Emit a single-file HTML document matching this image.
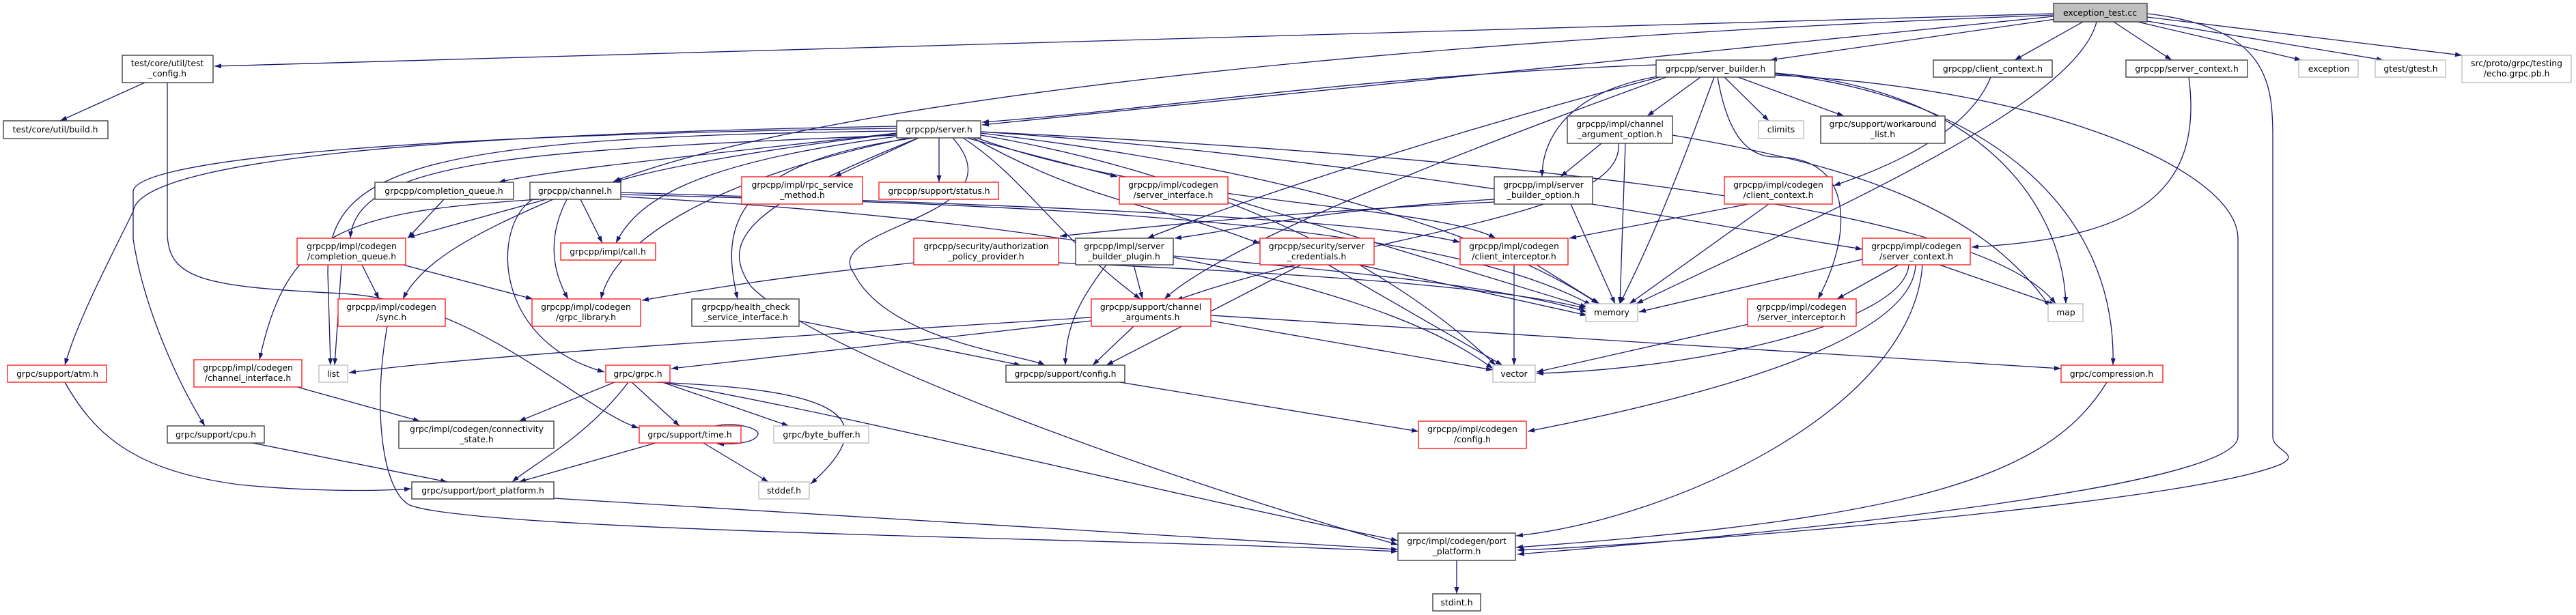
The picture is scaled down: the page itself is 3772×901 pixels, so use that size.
<!DOCTYPE html>
<html><head><meta charset="utf-8"><style>
html,body{margin:0;padding:0;background:#fff;}
svg{display:block;}
text{font-family:"DejaVu Sans","Liberation Sans",sans-serif;font-size:12.4px;fill:#000;text-anchor:middle;}
.e{fill:none;stroke:#191970;stroke-width:1.3;marker-end:url(#a);}
.n{fill:#fff;stroke:#404040;stroke-width:1.4;}
.r{fill:#fff;stroke:#ff2020;stroke-width:1.4;}
.g{fill:#fff;stroke:#bfbfbf;stroke-width:1.4;}
</style></head><body>
<svg width="3772" height="901" viewBox="0 0 3772 901" xmlns="http://www.w3.org/2000/svg">
<defs><marker id="a" markerUnits="userSpaceOnUse" markerWidth="11" markerHeight="8" refX="10" refY="3.5" orient="auto"><path d="M0,0 L10,3.5 L0,7 z" fill="#191970"/></marker></defs>
<g>
<path class="e" d="M3007,20 L314,97"/>
<path class="e" d="M3010,28 L2592,88"/>
<path class="e" d="M3007,24 L1438,183"/>
<path class="e" d="M3007,22 C2000,60 1200,150 898,266"/>
<path class="e" d="M3050,32 L2950,88"/>
<path class="e" d="M3095,32 L3180,88"/>
<path class="e" d="M3130,32 L3370,88"/>
<path class="e" d="M3138,30 L3490,88"/>
<path class="e" d="M3144,25 L3605,81"/>
<path class="e" d="M3070,32 C3040,150 2700,300 2396,445"/>
<path class="e" d="M3144,20 C3320,40 3328,120 3328,200 L3328,640 C3328,660 3370,665 3340,680 C3200,740 2400,800 2222,806"/>
<path class="e" d="M2425,95 C2000,110 1700,160 1438,179"/>
<path class="e" d="M2490,113 L2412,170"/>
<path class="e" d="M2525,113 L2590,177"/>
<path class="e" d="M2545,113 L2700,170"/>
<path class="e" d="M2440,110 C2300,130 2258,200 2258,259"/>
<path class="e" d="M2510,113 C2460,250 2420,350 2372,445"/>
<path class="e" d="M2515,113 C2530,200 2560,230 2600,230 C2720,230 2710,350 2662,438"/>
<path class="e" d="M2599,107 C2900,130 3020,300 3025,445"/>
<path class="e" d="M2599,108 C2900,140 3100,300 3094,535"/>
<path class="e" d="M2599,110 C3000,130 3277,250 3277,350 L3277,640 C3277,720 2500,790 2222,812"/>
<path class="e" d="M2440,113 C2200,200 1800,350 1705,438"/>
<path class="e" d="M2430,113 C2100,200 1800,300 1680,349"/>
<path class="e" d="M1313,195 C1000,230 800,250 730,267"/>
<path class="e" d="M1313,196 C1100,220 950,250 900,267"/>
<path class="e" d="M1345,202 L1222,259"/>
<path class="e" d="M1375,202 L1375,267"/>
<path class="e" d="M1415,202 L1636,259"/>
<path class="e" d="M1313,198 C800,220 520,230 513,349"/>
<path class="e" d="M1313,200 C1000,240 930,300 902,356"/>
<path class="e" d="M1330,202 C1050,260 900,350 880,438"/>
<path class="e" d="M1340,202 C1050,240 1060,350 1080,438"/>
<path class="e" d="M1410,202 C1500,260 1550,350 1670,438"/>
<path class="e" d="M1395,202 C1500,320 1200,330 1250,400 C1300,500 1500,520 1530,535"/>
<path class="e" d="M1436,195 C1900,250 2200,350 2340,445"/>
<path class="e" d="M1436,198 C1800,260 2050,400 2190,535"/>
<path class="e" d="M1313,192 C600,200 480,250 480,400 L484,535"/>
<path class="e" d="M1313,185 C400,200 200,260 195,310 C150,400 110,480 95,535"/>
<path class="e" d="M1313,188 C500,200 200,240 195,280 L195,350 C210,450 260,560 300,624"/>
<path class="e" d="M1425,202 C1600,300 1700,300 1845,357"/>
<path class="e" d="M1430,202 C1700,300 2100,300 2190,349"/>
<path class="e" d="M1345,202 C1100,300 1050,350 1100,420 C1200,520 1700,700 2047,798"/>
<path class="e" d="M1436,193 C2200,230 2900,300 3010,445"/>
<path class="e" d="M1436,193 C2000,230 2500,330 2727,365"/>
<path class="e" d="M800,292 L597,348"/>
<path class="e" d="M850,292 L882,356"/>
<path class="e" d="M810,292 C700,340 620,380 590,438"/>
<path class="e" d="M830,292 C800,350 810,400 832,438"/>
<path class="e" d="M790,292 C500,310 420,340 380,527"/>
<path class="e" d="M780,292 C720,330 720,500 885,545"/>
<path class="e" d="M909,285 C1500,300 2100,320 2330,447"/>
<path class="e" d="M909,288 C1500,320 2000,400 2186,540"/>
<path class="e" d="M909,282 C1500,300 2000,320 2138,355"/>
<path class="e" d="M650,292 L597,349"/>
<path class="e" d="M530,388 L555,438"/>
<path class="e" d="M590,388 L780,438"/>
<path class="e" d="M500,388 L490,535"/>
<path class="e" d="M567,478 C545,600 560,720 600,740 C700,780 1700,790 2047,808"/>
<path class="e" d="M1338,385 C1100,410 1000,430 940,440"/>
<path class="e" d="M1550,385 C1900,400 2200,420 2322,452"/>
<path class="e" d="M1660,388 L1673,438"/>
<path class="e" d="M1620,388 C1580,440 1560,480 1560,535"/>
<path class="e" d="M1718,375 C2000,400 2200,420 2324,457"/>
<path class="e" d="M1905,388 L1620,535"/>
<path class="e" d="M1990,388 L2324,462"/>
<path class="e" d="M1945,388 L2200,535"/>
<path class="e" d="M2250,388 L2342,445"/>
<path class="e" d="M2217,388 L2217,535"/>
<path class="e" d="M2300,299 L2365,445"/>
<path class="e" d="M2188,292 C1900,310 1800,340 1720,349"/>
<path class="e" d="M2188,296 C1900,310 1700,330 1552,346"/>
<path class="e" d="M2345,210 L2285,259"/>
<path class="e" d="M2380,210 L2372,445"/>
<path class="e" d="M2370,210 C2380,320 2000,340 1722,440"/>
<path class="e" d="M2449,198 C2700,240 2900,300 3002,450"/>
<path class="e" d="M2560,299 L2298,349"/>
<path class="e" d="M2590,299 L2386,445"/>
<path class="e" d="M2727,380 L2400,457"/>
<path class="e" d="M2840,388 L3010,447"/>
<path class="e" d="M2780,388 L2690,438"/>
<path class="e" d="M2795,388 C2790,470 2500,540 2250,547"/>
<path class="e" d="M2805,388 C2800,500 2500,580 2237,632"/>
<path class="e" d="M2815,388 C2800,600 2450,760 2220,785"/>
<path class="e" d="M2915,113 C2880,200 2750,250 2685,272"/>
<path class="e" d="M3205,113 C3230,300 3100,350 2887,362"/>
<path class="e" d="M1598,465 C1200,490 700,520 511,546"/>
<path class="e" d="M1660,478 L1600,535"/>
<path class="e" d="M1773,470 L2186,542"/>
<path class="e" d="M1773,462 L3018,540"/>
<path class="e" d="M1598,470 L983,540"/>
<path class="e" d="M1170,470 L1495,535"/>
<path class="e" d="M1798,290 L2324,450"/>
<path class="e" d="M1640,560 L2077,632"/>
<path class="e" d="M900,560 L760,617"/>
<path class="e" d="M925,560 L995,624"/>
<path class="e" d="M970,560 L1155,624"/>
<path class="e" d="M920,560 C860,640 780,680 750,706"/>
<path class="e" d="M970,560 C1300,620 1600,700 2047,792"/>
<path class="e" d="M960,560 C1200,570 1310,600 1187,709"/>
<path class="e" d="M1030,649 L1125,706"/>
<path class="e" d="M960,649 L760,706"/>
<path class="e" d="M1047,624 C1080,618 1112,628 1110,636 C1108,646 1085,652 1050,650"/>
<path class="e" d="M95,560 C140,640 200,690 350,710 C450,720 550,720 602,716"/>
<path class="e" d="M370,649 L655,706"/>
<path class="e" d="M435,567 L615,617"/>
<path class="e" d="M811,730 L2047,805"/>
<path class="e" d="M3085,560 C3000,700 2800,760 2220,802"/>
<path class="e" d="M2560,475 L2250,545"/>
<path class="e" d="M2133,821 L2133,870"/>
<path class="e" d="M245,121 L245,340 C245,410 300,420 500,430 C700,440 850,600 935,627"/>
<path class="e" d="M212,121 L88,177"/>
</g>
<g>
<rect x="3007" y="5" width="137" height="27" fill="#bfbfbf" stroke="#404040" stroke-width="1.4"/><text x="3075" y="23">exception_test.cc</text>
<rect class="n" x="179" y="81" width="133" height="40"/><text x="245" y="97">test/core/util/test</text><text x="245" y="112">_config.h</text>
<rect class="n" x="5" y="177" width="153" height="26"/><text x="81" y="194">test/core/util/build.h</text>
<rect class="n" x="2425" y="88" width="174" height="25"/><text x="2512" y="105">grpcpp/server_builder.h</text>
<rect class="n" x="2831" y="88" width="174" height="25"/><text x="2918" y="105">grpcpp/client_context.h</text>
<rect class="n" x="3113" y="88" width="178" height="25"/><text x="3202" y="105">grpcpp/server_context.h</text>
<rect class="g" x="3366" y="88" width="87" height="25"/><text x="3410" y="105">exception</text>
<rect class="g" x="3478" y="88" width="103" height="25"/><text x="3530" y="105">gtest/gtest.h</text>
<rect class="g" x="3605" y="81" width="160" height="40"/><text x="3685" y="97">src/proto/grpc/testing</text><text x="3685" y="112">/echo.grpc.pb.h</text>
<rect class="n" x="1313" y="177" width="123" height="25"/><text x="1375" y="194">grpcpp/server.h</text>
<rect class="n" x="2295" y="170" width="154" height="40"/><text x="2372" y="186">grpcpp/impl/channel</text><text x="2372" y="201">_argument_option.h</text>
<rect class="g" x="2575" y="177" width="66" height="26"/><text x="2608" y="194">climits</text>
<rect class="n" x="2666" y="170" width="182" height="40"/><text x="2757" y="186">grpc/support/workaround</text><text x="2757" y="201">_list.h</text>
<rect class="n" x="549" y="267" width="203" height="25"/><text x="650" y="284">grpcpp/completion_queue.h</text>
<rect class="n" x="776" y="267" width="133" height="25"/><text x="842" y="284">grpcpp/channel.h</text>
<rect class="r" x="1086" y="259" width="177" height="40"/><text x="1175" y="275">grpcpp/impl/rpc_service</text><text x="1175" y="290">_method.h</text>
<rect class="r" x="1287" y="267" width="175" height="25"/><text x="1375" y="284">grpcpp/support/status.h</text>
<rect class="r" x="1639" y="259" width="159" height="40"/><text x="1718" y="275">grpcpp/impl/codegen</text><text x="1718" y="290">/server_interface.h</text>
<rect class="n" x="2188" y="259" width="144" height="40"/><text x="2260" y="275">grpcpp/impl/server</text><text x="2260" y="290">_builder_option.h</text>
<rect class="r" x="2525" y="259" width="158" height="40"/><text x="2604" y="275">grpcpp/impl/codegen</text><text x="2604" y="290">/client_context.h</text>
<rect class="r" x="435" y="349" width="159" height="39"/><text x="515" y="365">grpcpp/impl/codegen</text><text x="515" y="380">/completion_queue.h</text>
<rect class="r" x="821" y="356" width="139" height="25"/><text x="890" y="373">grpcpp/impl/call.h</text>
<rect class="r" x="1338" y="349" width="212" height="39"/><text x="1444" y="365">grpcpp/security/authorization</text><text x="1444" y="380">_policy_provider.h</text>
<rect class="n" x="1575" y="349" width="143" height="39"/><text x="1646" y="365">grpcpp/impl/server</text><text x="1646" y="380">_builder_plugin.h</text>
<rect class="r" x="1845" y="349" width="167" height="39"/><text x="1928" y="365">grpcpp/security/server</text><text x="1928" y="380">_credentials.h</text>
<rect class="r" x="2138" y="349" width="158" height="39"/><text x="2217" y="365">grpcpp/impl/codegen</text><text x="2217" y="380">/client_interceptor.h</text>
<rect class="r" x="2727" y="349" width="158" height="39"/><text x="2806" y="365">grpcpp/impl/codegen</text><text x="2806" y="380">/server_context.h</text>
<rect class="r" x="495" y="438" width="157" height="40"/><text x="573" y="454">grpcpp/impl/codegen</text><text x="573" y="469">/sync.h</text>
<rect class="r" x="779" y="438" width="159" height="40"/><text x="858" y="454">grpcpp/impl/codegen</text><text x="858" y="469">/grpc_library.h</text>
<rect class="n" x="1013" y="438" width="157" height="40"/><text x="1092" y="454">grpcpp/health_check</text><text x="1092" y="469">_service_interface.h</text>
<rect class="r" x="1598" y="438" width="175" height="40"/><text x="1685" y="454">grpcpp/support/channel</text><text x="1685" y="469">_arguments.h</text>
<rect class="g" x="2322" y="445" width="76" height="26"/><text x="2360" y="462">memory</text>
<rect class="r" x="2559" y="438" width="159" height="40"/><text x="2638" y="454">grpcpp/impl/codegen</text><text x="2638" y="469">/server_interceptor.h</text>
<rect class="g" x="2999" y="445" width="51" height="26"/><text x="3025" y="462">map</text>
<rect class="r" x="11" y="535" width="145" height="25"/><text x="84" y="552">grpc/support/atm.h</text>
<rect class="r" x="284" y="527" width="158" height="40"/><text x="363" y="543">grpcpp/impl/codegen</text><text x="363" y="558">/channel_interface.h</text>
<rect class="g" x="467" y="535" width="42" height="25"/><text x="488" y="552">list</text>
<rect class="r" x="887" y="535" width="94" height="25"/><text x="934" y="552">grpc/grpc.h</text>
<rect class="n" x="1473" y="535" width="174" height="25"/><text x="1560" y="552">grpcpp/support/config.h</text>
<rect class="g" x="2186" y="535" width="62" height="25"/><text x="2217" y="552">vector</text>
<rect class="r" x="3018" y="535" width="149" height="25"/><text x="3092" y="552">grpc/compression.h</text>
<rect class="n" x="245" y="624" width="142" height="25"/><text x="316" y="641">grpc/support/cpu.h</text>
<rect class="n" x="584" y="617" width="227" height="40"/><text x="698" y="633">grpc/impl/codegen/connectivity</text><text x="698" y="648">_state.h</text>
<rect class="r" x="936" y="624" width="149" height="25"/><text x="1010" y="641">grpc/support/time.h</text>
<rect class="g" x="1133" y="624" width="139" height="25"/><text x="1203" y="641">grpc/byte_buffer.h</text>
<rect class="r" x="2077" y="617" width="158" height="40"/><text x="2156" y="633">grpcpp/impl/codegen</text><text x="2156" y="648">/config.h</text>
<rect class="n" x="603" y="706" width="208" height="25"/><text x="707" y="723">grpc/support/port_platform.h</text>
<rect class="g" x="1111" y="706" width="74" height="25"/><text x="1148" y="723">stddef.h</text>
<rect class="n" x="2047" y="781" width="172" height="40"/><text x="2133" y="797">grpc/impl/codegen/port</text><text x="2133" y="812">_platform.h</text>
<rect class="n" x="2098" y="870" width="70" height="25"/><text x="2133" y="887">stdint.h</text>
</g>
</svg>
</body></html>
